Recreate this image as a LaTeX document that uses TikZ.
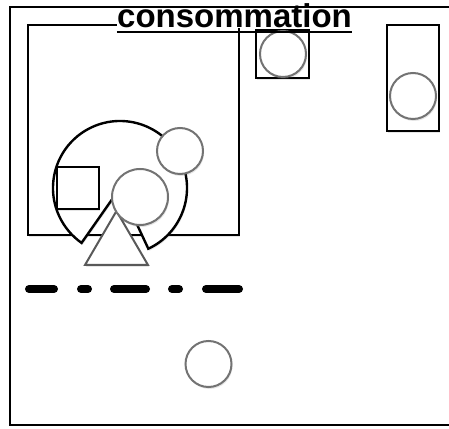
\documentclass[tikz,border=0pt]{standalone}
\usepackage{fontspec}
\setmainfont{Liberation Sans}
\usetikzlibrary{shadows}
\tikzset{
  soft/.style={drop shadow={opacity=0.2, shadow xshift=1pt, shadow yshift=-2pt}},
  ring/.style={circle, draw=black!55, line width=2pt, fill=white, minimum size=46pt, inner sep=0pt, soft},
  frame/.style={draw=black, line width=2.4pt, fill=white, inner sep=0pt, soft}
}
\begin{document}
\begin{tikzpicture}[x=1pt, y=1pt]
  \useasboundingbox (0,0) rectangle (449,428);
  % big area
  \node[frame, minimum width=211pt, minimum height=210pt] (zone) at (133.5,298) {};
  \node[frame, minimum width=53pt, minimum height=48pt] (boxtop) at (282.5,374) {};
  \node[frame, minimum width=52pt, minimum height=106pt] (boxright) at (413,350) {};
  \node[ring] (ctop) at (283,374) {};
  \node[ring] (cright) at (413,332) {};

  % open circle with a wedge cut out
  \coordinate (pc) at (120,240);
  \filldraw[fill=white, line width=2.4pt, soft] (pc) -- ++(-65:67) arc (-65:235:67) -- cycle;
  \node[draw, line width=2.4pt, fill=white, minimum size=42pt, inner sep=0pt, soft] (sq) at (78,240) {};
  \node[ring] (csmall) at (180,277) {};
  \coordinate (ta) at (116.5,217);
  \coordinate (tb) at (85,163);
  \coordinate (tc) at (148,163);
  \filldraw[fill=white, draw=black!65, line width=2pt, soft] (ta) -- (tb) -- (tc) -- cycle;
  \node[ring, minimum size=56pt] (cmid) at (140,231) {};

  % separation line
  \coordinate (la) at (29,139);
  \coordinate (lb) at (239,139);
  \draw[line width=8pt, line cap=round,
    dash pattern=on 25pt off 27pt on 7pt off 26pt on 32pt off 26pt on 7pt off 27pt on 33pt] (la) -- (lb);

  \node[ring] (cbottom) at (208.5,64) {};

  % title
  \node[fill=white, inner sep=0pt, anchor=base, font=\fontsize{33}{36}\selectfont\bfseries] (title) at (234.5,400) {consommation};
  \draw[line width=2.2pt] ([yshift=-4pt]title.base west) -- ([yshift=-4pt]title.base east);

  % outer frame
  \coordinate (fa) at (452,421);
  \coordinate (fb) at (10,421);
  \coordinate (fc) at (10,3);
  \coordinate (fd) at (452,3);
  \draw[line width=2.4pt] (fa) -- (fb) -- (fc) -- (fd);
\end{tikzpicture}
\end{document}
